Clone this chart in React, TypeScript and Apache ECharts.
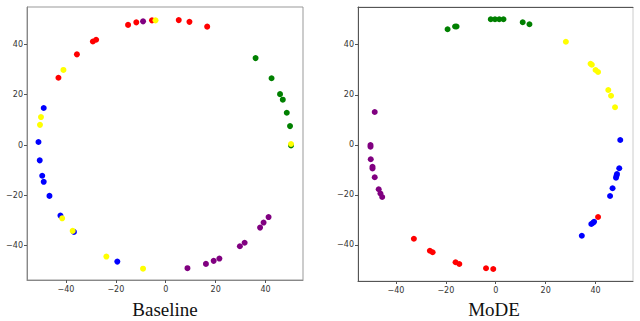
import React, { useEffect, useRef } from "react";
import * as echarts from "echarts";

type Pt = [number, number];

// Baseline clusters
const baselineRed: Pt[] = [
  [-43, 26.7], [-35.6, 36], [-29.2, 41.1], [-27.9, 41.8], [-15.1, 47.7],
  [-11.8, 48.7], [-5.5, 49.5], [5.2, 49.6], [9.5, 48.9], [16.6, 47],
];
const baselineGreen: Pt[] = [
  [36, 34.5], [42.4, 26.5], [45.8, 20.2], [46.9, 18], [48.5, 12.8], [49.8, 7.5], [50.2, -0.2],
];
const baselineBlue: Pt[] = [
  [-51, 1.2], [-48.9, 14.7], [-50.5, -6.1], [-49.5, -12.2], [-48.9, -14.6],
  [-46.6, -20.2], [-42.2, -28], [-36.8, -34.5], [-19.4, -46.3],
];
const baselinePurple: Pt[] = [
  [-9.1, 49.1], [8.7, -48.9], [16.1, -47.2], [19.2, -46], [21.5, -45.1],
  [29.7, -40.2], [31.6, -38.8], [37.8, -32.8], [39.2, -30.8], [41.2, -28.6],
];
const baselineYellow: Pt[] = [
  [-50.4, 8], [-50, 11.1], [-41, 29.8], [-4.1, 49.5], [50.2, 0.4],
  [-41.5, -29.1], [-37.3, -34.1], [-23.8, -44.3], [-9.1, -49.1],
];

// MoDE clusters
const modeGreen: Pt[] = [
  [-19.3, 46.2], [-16.3, 47.3], [-15.7, 47.3], [-2, 50.2], [-0.3, 50.2],
  [1.4, 50.2], [3.1, 50.2], [10.8, 49], [13.5, 48.2],
];
const modeYellow: Pt[] = [
  [28.1, 41.2], [38, 32.4], [38.5, 32], [40, 29.9], [41, 29.1],
  [45.1, 21.9], [46.2, 19.6], [47.8, 15],
];
const modeBlue: Pt[] = [
  [49.9, 1.9], [34.5, -36.4], [38.3, -31.7], [39, -31.2], [39.4, -30.8],
  [45.8, -20.5], [46.8, -17.4], [48.2, -13.2], [48.4, -12.4], [48.6, -11.7], [49.5, -9.4],
];
const modePurple: Pt[] = [
  [-48.5, 13.1], [-50.2, -0.1], [-50.2, -0.8], [-50.1, -5.8], [-49.4, -8.8],
  [-49.4, -9.5], [-48.5, -13], [-46.9, -17.8], [-46.2, -19.5], [-45.5, -20.9],
];
const modeRed: Pt[] = [
  [-32.8, -37.6], [-26.4, -42.4], [-25.3, -43], [-16.1, -47], [-14.6, -47.7],
  [-3.9, -49.4], [-1, -49.7], [41, -28.9],
];

const tickValues = [-40, -20, 0, 20, 40];
const panelTitles = ["Baseline", "MoDE"];

const COLORS = {
  red: "#ff0000",
  green: "#008000",
  blue: "#0000ff",
  purple: "#800080",
  yellow: "#ffff00",
};

const fmt = (v: number) => String(v).replace("-", "\u2212");

function valueAxis(gridIndex: number, min: number, max: number, isX: boolean, lineColor: string) {
  return {
    type: "value" as const,
    gridIndex,
    min,
    max,
    position: isX ? "bottom" : "left",
    splitLine: { show: false },
    axisLine: { show: true, onZero: false, lineStyle: { color: lineColor, width: 1 } },
    axisTick: {
      show: true,
      customValues: tickValues,
      length: 3,
      lineStyle: { color: "#555" },
    },
    axisLabel: {
      customValues: tickValues,
      formatter: fmt,
      fontSize: 8,
      fontFamily: "DejaVu Sans",
      color: "#333",
      margin: isX ? 5 : 4,
    },
  };
}

function scatter(name: string, data: Pt[], color: string, idx: number) {
  return {
    type: "scatter" as const,
    name,
    xAxisIndex: idx,
    yAxisIndex: idx,
    data,
    symbol: "circle",
    symbolSize: 6,
    itemStyle: { color, opacity: 1 },
  };
}

export default function App() {
  const ref = useRef<HTMLDivElement>(null);
  useEffect(() => {
    document.body.style.margin = "0";
    if (!ref.current) return;
    const chart = echarts.init(ref.current, undefined, { renderer: "svg" });
    chart.setOption({
      animation: false,
      backgroundColor: "#ffffff",
      grid: [
        { left: 27, top: 7, width: 276, height: 273, show: true, borderColor: "#999", borderWidth: 1 },
        { left: 358, top: 7, width: 275, height: 274, show: true, borderColor: "#ccc", borderWidth: 1 },
      ],
      xAxis: [
        valueAxis(0, -55.6, 55, true, "#888"),
        valueAxis(1, -55.2, 55, true, "#555"),
        {
          type: "value", gridIndex: 1, min: -55.2, max: 55, position: "top",
          axisLine: { show: true, onZero: false, lineStyle: { color: "#555" } },
          axisTick: { show: false }, axisLabel: { show: false }, splitLine: { show: false },
        },
      ],
      yAxis: [
        valueAxis(0, -53.6, 54.8, false, "#888"),
        valueAxis(1, -54.5, 55.1, false, "#555"),
      ],
      graphic: [
        {
          type: "text", x: 165, y: 309, style: {
            text: panelTitles[0], font: "19px 'Liberation Serif'", fill: "#111",
            textAlign: "center", textVerticalAlign: "middle",
          },
        },
        {
          type: "text", x: 494, y: 309, style: {
            text: panelTitles[1], font: "19px 'Liberation Serif'", fill: "#111",
            textAlign: "center", textVerticalAlign: "middle",
          },
        },
      ],
      series: [
        scatter("bRed", baselineRed, COLORS.red, 0),
        scatter("bGreen", baselineGreen, COLORS.green, 0),
        scatter("bBlue", baselineBlue, COLORS.blue, 0),
        scatter("bPurple", baselinePurple, COLORS.purple, 0),
        scatter("bYellow", baselineYellow, COLORS.yellow, 0),
        scatter("mRed", modeRed, COLORS.red, 1),
        scatter("mGreen", modeGreen, COLORS.green, 1),
        scatter("mBlue", modeBlue, COLORS.blue, 1),
        scatter("mPurple", modePurple, COLORS.purple, 1),
        scatter("mYellow", modeYellow, COLORS.yellow, 1),
      ],
    });
    return () => chart.dispose();
  }, []);
  return <div ref={ref} style={{ width: 640, height: 321 }} />;
}
